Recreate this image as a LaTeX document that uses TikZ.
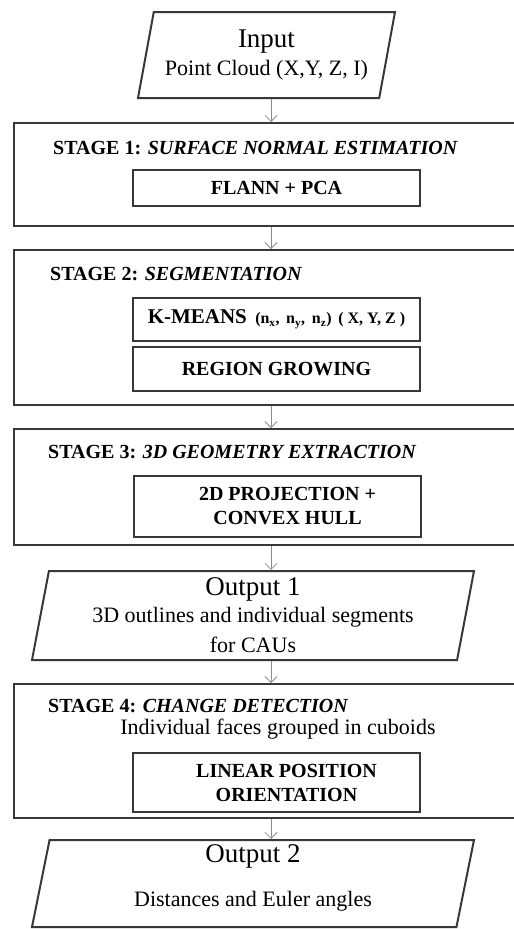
\documentclass[tikz,border=0pt]{standalone}
\usepackage{fontspec}
\setmainfont{Liberation Serif}
\usetikzlibrary{arrows.meta,positioning,shapes.geometric}

\begin{document}
\begin{tikzpicture}[
  x=1pt, y=1pt,
  >={Straight Barb[length=6pt,width=12pt]},
  every node/.style={font=\fontsize{22}{26}\selectfont},
  frame/.style={draw=black!78, line width=2pt},
  io/.style={frame, trapezium, trapezium stretches body,
             align=center, inner sep=0pt},
  stagebox/.style={frame, rectangle, minimum width=514pt, anchor=north west},
  stagetitle/.style={anchor=west, inner sep=0pt,
                     font=\fontsize{20}{24}\selectfont\bfseries},
  algo/.style={frame, rectangle, minimum width=287pt, align=center,
               font=\fontsize{20}{24}\selectfont\bfseries},
  flow/.style={->, draw=black!45, line width=0.8pt},
]
  \useasboundingbox (0,0) rectangle (514,-929);
  \clip (0,0) rectangle (514,-929);

  % Input
  \node[io, minimum width=257pt, minimum height=86pt,
        trapezium left angle=72.6, trapezium right angle=107.4]
    (in) at (266.5,-55)
    {{\fontsize{27}{30}\selectfont Input}\\[2pt] Point Cloud (X,Y, Z, I)};

  % Stage 1
  \node[stagebox, minimum height=103pt] (s1) at (13,-122) {};
  \node[stagetitle] (t1) at (53,-148)
    {STAGE 1: \textit{SURFACE NORMAL ESTIMATION}};
  \node[algo, minimum height=36pt] (flann) at (276.5,-188) {FLANN + PCA};

  % Stage 2
  \node[stagebox, minimum height=155pt] (s2) at (13,-249) {};
  \node[stagetitle] (t2) at (50,-274) {STAGE 2: \textit{SEGMENTATION}};
  \node[algo, minimum height=43pt] (kmeans) at (276.5,-319.5)
    {{\fontsize{21}{24}\selectfont K-MEANS}\, {\fontsize{16}{18}\selectfont
     (n\textsubscript{x}, \,n\textsubscript{y}, \,n\textsubscript{z})\, ( X, Y, Z )}};
  \node[algo, minimum height=44pt] (region) at (276.5,-369) {REGION GROWING};

  % Stage 3
  \node[stagebox, minimum height=116pt] (s3) at (13,-428) {};
  \node[stagetitle] (t3) at (48,-452) {STAGE 3: \textit{3D GEOMETRY EXTRACTION}};
  \node[algo, minimum height=61pt] (proj) at (277.5,-506.5)
    {\hspace*{20pt}2D PROJECTION +\\ \hspace*{20pt}CONVEX HULL};

  % Output 1
  \node[io, minimum width=442pt, minimum height=89pt,
        trapezium left angle=77.3, trapezium right angle=102.7]
    (out1) at (253,-615.5)
    {{\fontsize{27}{30}\selectfont Output 1}\\[1pt]
     3D outlines and individual segments\\[4pt] for CAUs};

  % Stage 4
  \node[stagebox, minimum height=134pt] (s4) at (13,-683) {};
  \node[stagetitle] (t4) at (48,-706) {STAGE 4: \textit{CHANGE DETECTION}};
  \node[inner sep=0pt] (faces) at (278,-729) {Individual faces grouped in cuboids};
  \node[algo, minimum height=59pt] (linear) at (276.5,-782.5)
    {\hspace*{20pt}LINEAR POSITION\\ \hspace*{20pt}ORIENTATION};

  % Output 2
  \node[io, minimum width=442pt, minimum height=87pt,
        trapezium left angle=77.3, trapezium right angle=102.7]
    (out2) at (253,-883.5)
    {{\fontsize{27}{30}\selectfont Output 2}\\[18pt]
     Distances and Euler angles\rule[-16pt]{0pt}{0pt}};

  % flow
  \draw[flow] (s1.north |- in.south) -- (s1.north);
  \draw[flow] (s1.south) -- (s2.north);
  \draw[flow] (s2.south) -- (s3.north);
  \draw[flow] (s3.south) -- (s3.south |- out1.north);
  \draw[flow] (out1.south -| s4.north) -- (s4.north);
  \draw[flow] (s4.south) -- (s4.south |- out2.north);
\end{tikzpicture}
\end{document}
